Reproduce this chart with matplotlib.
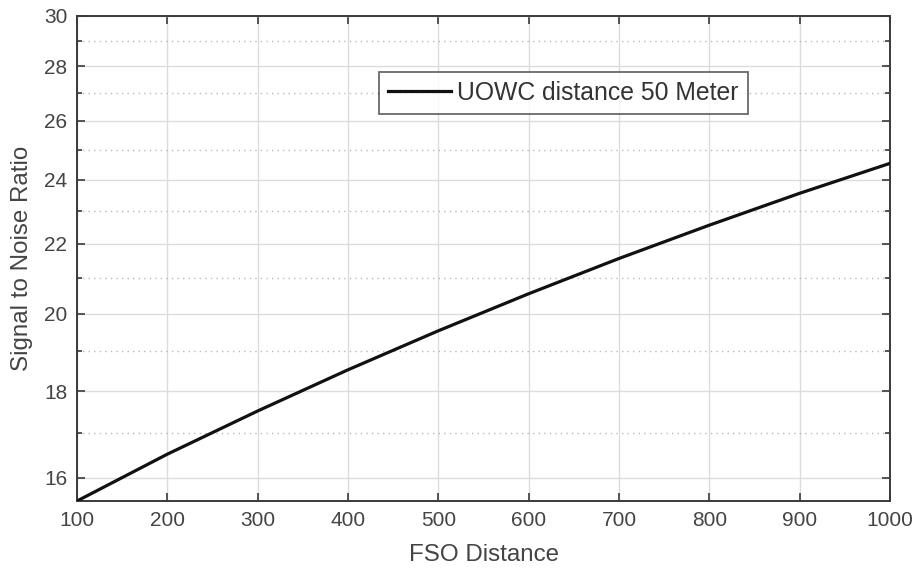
"""
SNR versus FSO link distance for a fixed 50 m UOWC segment.

Plots signal-to-noise ratio on a logarithmic y axis with MATLAB-style
box, inward ticks and dotted minor grid.
"""

import matplotlib
matplotlib.use('Agg')
import matplotlib.pyplot as plt
from matplotlib.ticker import FixedLocator, FixedFormatter, NullFormatter

plt.rcParams['font.family'] = ['Liberation Sans', 'DejaVu Sans']

# FSO distance and resulting SNR for the 50 m underwater link
fso_distance = [100, 200, 300, 400, 500, 600, 700, 800, 900, 1000]
snr = [15.50, 16.52, 17.52, 18.53, 19.54, 20.55, 21.56, 22.56, 23.56, 24.54]

x_ticks = [100, 200, 300, 400, 500, 600, 700, 800, 900, 1000]
y_ticks = [16, 18, 20, 22, 24, 26, 28, 30]
y_minor = [17, 19, 21, 23, 25, 27, 29]

series_label = 'UOWC distance 50 Meter'
axis_color = '#3a3a3a'
grid_color = '#dcdcdc'


def main():
	fig = plt.figure(figsize=(9.18, 5.69), dpi=100)
	ax = fig.add_axes([0.0839, 0.1195, 0.8856, 0.8529])

	ax.plot(fso_distance, snr, color='#111111', linewidth=2.3, label=series_label, zorder=3)

	ax.set_yscale('log')
	ax.set_xlim(100, 1000)
	ax.set_ylim(15.5, 30)

	ax.set_xticks(x_ticks)
	ax.set_xticklabels([str(v) for v in x_ticks])
	ax.yaxis.set_major_locator(FixedLocator(y_ticks))
	ax.yaxis.set_major_formatter(FixedFormatter([str(v) for v in y_ticks]))
	ax.yaxis.set_minor_locator(FixedLocator(y_minor))
	ax.yaxis.set_minor_formatter(NullFormatter())

	# Grid: solid major lines, dotted minor lines on y only
	ax.grid(True, which='major', color=grid_color, linewidth=1.0, linestyle='-')
	ax.grid(True, which='minor', axis='y', color='#b8b8b8', linewidth=1.0, linestyle=(0, (1, 3)))
	ax.set_axisbelow(True)

	for spine in ax.spines.values():
		spine.set_color(axis_color)
		spine.set_linewidth(1.4)

	ax.tick_params(which='both', direction='in', top=True, right=True,
		colors=axis_color, width=1.2)
	ax.tick_params(which='major', length=6, labelsize=15, pad=7, labelcolor='#444444')
	ax.tick_params(which='minor', length=3.5)

	ax.set_xlabel('FSO Distance', fontsize=17.4, color='#444444', labelpad=10)
	ax.set_ylabel('Signal to Noise Ratio', fontsize=17.4, color='#444444', labelpad=8)

	leg = ax.legend(loc='center', bbox_to_anchor=(0.598, 0.8407), fontsize=17.8,
		frameon=True, fancybox=False, handlelength=2.55, handletextpad=0.28,
		borderpad=0.35, borderaxespad=0)
	leg.get_frame().set_edgecolor('#444444')
	leg.get_frame().set_linewidth(1.3)
	for txt in leg.get_texts():
		txt.set_color('#333333')

	fig.savefig('out.png', dpi=100)
	plt.close(fig)


if __name__ == '__main__':
	main()
